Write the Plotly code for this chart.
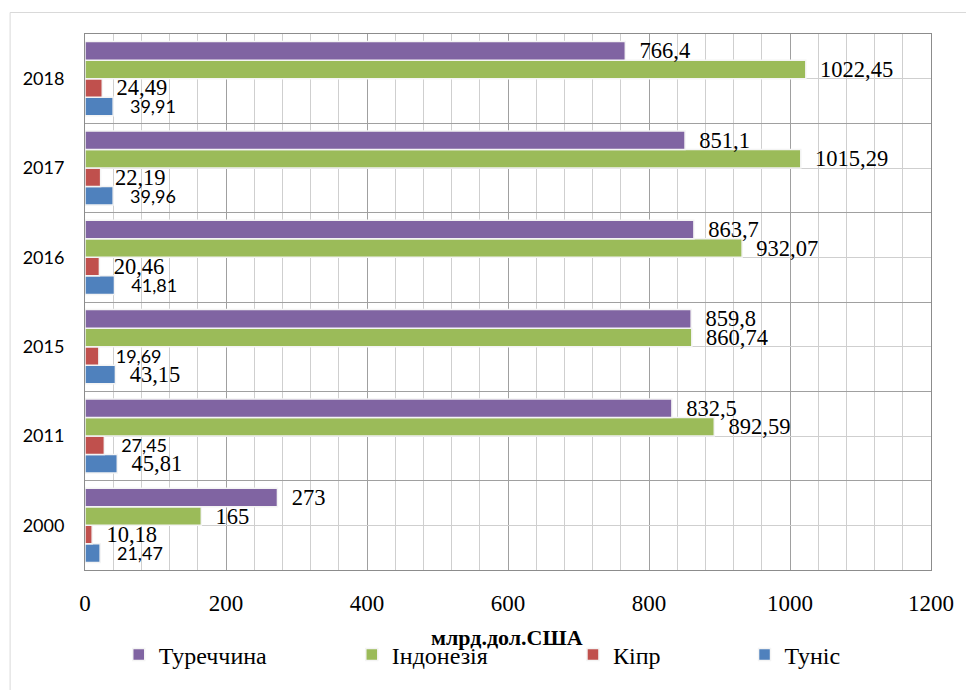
import plotly.graph_objects as go

years = ["2000", "2011", "2015", "2016", "2017", "2018"]
turkey = [273, 832.5, 859.8, 863.7, 851.1, 766.4]
indonesia = [165, 892.59, 860.74, 932.07, 1015.29, 1022.45]
cyprus = [10.18, 27.45, 19.69, 20.46, 22.19, 24.49]
tunisia = [21.47, 45.81, 43.15, 41.81, 39.96, 39.91]

# label font style per point (serif/sans as in the original)
cyprus_sans = [False, True, True, False, False, False]
tunisia_sans = [True, False, False, True, True, True]

x_ticks = [0, 200, 400, 600, 800, 1000, 1200]

SERIF = "Liberation Serif, Times New Roman, serif"
SANS = "Lato, sans-serif"
NB = "\u00a0"


def fmt(v):
    return ("%g" % v).replace(".", ",")


def labels(vals, sans=None):
    if sans is None:
        sans = [False] * len(vals)
    txt = [(NB * 3 if s else NB * 2) + fmt(v) for v, s in zip(vals, sans)]
    fam = [SANS if s else SERIF for s in sans]
    size = [18 if s else 22.5 for s in sans]
    return txt, fam, size


ypos = list(range(len(years)))

series = [
    ("Туніс", tunisia, "#4F81BD", tunisia_sans, "legend4"),
    ("Кіпр", cyprus, "#C0504D", cyprus_sans, "legend3"),
    ("Індонезія", indonesia, "#9BBB59", None, "legend2"),
    ("Туреччина", turkey, "#8064A2", None, "legend"),
]

fig = go.Figure()
for name, vals, color, sans, lg in series:
    txt, fam, size = labels(vals, sans)
    fig.add_trace(go.Bar(
        name=name, x=vals, y=ypos, orientation="h",
        marker=dict(color=color, line=dict(color="#f4f4f4", width=1.5)),
        text=txt, textposition="outside", constraintext="none",
        textfont=dict(family=fam, size=size, color="black"),
        cliponaxis=False, legend=lg, hoverinfo="x+name",
    ))

# page body has an 8px margin: figure sized so it fits the 974x698 window
OFF = 8
W, H = 958, 682
L, R, T, B = 77, 28, 26, 120
pw, ph = W - L - R, H - T - B


def px(xs):
    # screen x -> paper x
    return (xs - OFF - L) / pw


def py(ys):
    # screen y -> paper y
    return (H - B - (ys - OFF)) / ph


legend_common = dict(orientation="h", yanchor="middle", xanchor="left",
                     font=dict(family=SERIF, size=24, color="black"),
                     bgcolor="rgba(0,0,0,0)", borderwidth=0)

fig.update_layout(
    width=W, height=H,
    margin=dict(l=L, r=R, t=T, b=B),
    paper_bgcolor="white", plot_bgcolor="white",
    barmode="group", bargap=0.17, bargroupgap=0.0,
    xaxis=dict(range=[0, 1200], tickvals=x_ticks,
               showgrid=True, gridcolor="#a0a0a0", gridwidth=1,
               minor=dict(dtick=40, tick0=0, showgrid=True, gridcolor="#cfcfcf", gridwidth=1),
               showline=True, linecolor="#8c8c8c", linewidth=1, mirror=True,
               ticks="", ticklabelstandoff=12, zeroline=False,
               tickfont=dict(family=SERIF, size=23, color="black")),
    yaxis=dict(range=[-0.5, len(years) - 0.5], tickvals=ypos, ticktext=years,
               showgrid=True, gridcolor="#cfcfcf", gridwidth=1,
               minor=dict(tickvals=[i - 0.5 for i in range(len(years) + 1)],
                          showgrid=True, gridcolor="#a0a0a0", gridwidth=1),
               showline=True, linecolor="#8c8c8c", linewidth=1, mirror=True,
               ticks="", ticklabelstandoff=16, zeroline=False,
               tickfont=dict(family=SANS, size=18, color="black")),
    legend=dict(x=px(119), y=py(655), **legend_common),
    legend2=dict(x=px(354), y=py(655), **legend_common),
    legend3=dict(x=px(577), y=py(655), **legend_common),
    legend4=dict(x=px(750), y=py(655), **legend_common),
    annotations=[dict(text="<b>млрд.дол.США</b>", x=px(510), y=py(637),
                      xref="paper", yref="paper", xanchor="center", yanchor="middle",
                      showarrow=False, font=dict(family=SERIF, size=22, color="black"))],
    shapes=[dict(type="rect", xref="paper", yref="paper",
                 x0=px(9.5), x1=px(1000), y0=py(720), y1=py(12.5),
                 line=dict(color="#d9d9d9", width=1), fillcolor="rgba(0,0,0,0)", layer="below")],
    showlegend=True,
)

fig.write_html("out.html")
